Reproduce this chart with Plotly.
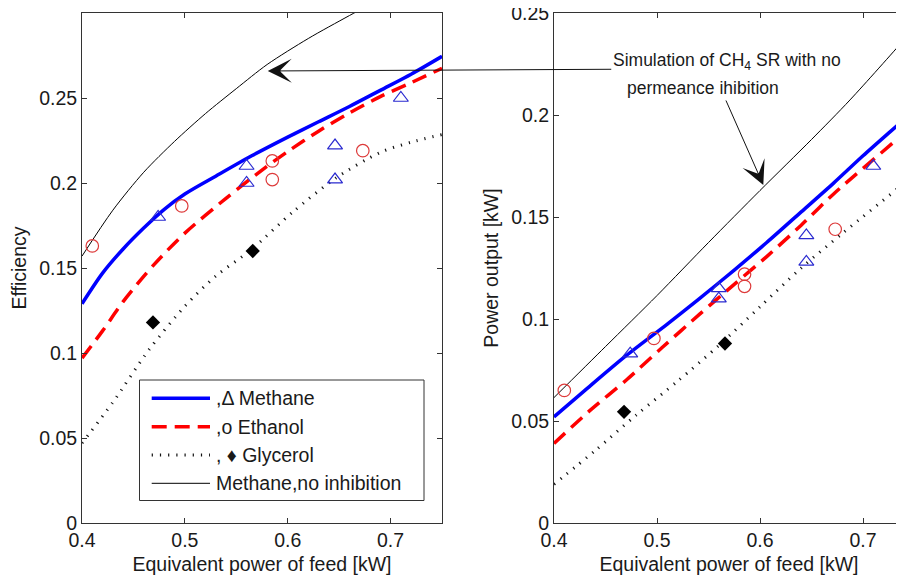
import plotly.graph_objects as go

# ---------------- Left panel: Efficiency ----------------
eff_methane_model_x = [0.40, 0.42, 0.44, 0.46, 0.48, 0.50, 0.53, 0.565, 0.60, 0.63, 0.66, 0.69, 0.72, 0.75]
eff_methane_model_y = [0.129, 0.147, 0.1612, 0.1735, 0.1845, 0.1935, 0.2040, 0.2160, 0.2270, 0.2360, 0.2450, 0.2545, 0.2640, 0.2745]
eff_ethanol_model_x = [0.40, 0.42, 0.44, 0.47, 0.50, 0.54, 0.575, 0.60, 0.63, 0.66, 0.69, 0.72, 0.75]
eff_ethanol_model_y = [0.097, 0.113, 0.1302, 0.152, 0.1705, 0.1910, 0.2076, 0.2185, 0.2305, 0.2412, 0.2508, 0.2590, 0.2675]
eff_glycerol_model_x = [0.40, 0.43, 0.465, 0.50, 0.53, 0.565, 0.605, 0.647, 0.69, 0.72, 0.75]
eff_glycerol_model_y = [0.047, 0.071, 0.1018, 0.1275, 0.1452, 0.161, 0.1830, 0.2030, 0.2180, 0.2240, 0.2285]
eff_noinhib_model_x = [0.40, 0.43, 0.46, 0.49, 0.52, 0.55, 0.58, 0.62, 0.66, 0.70, 0.75]
eff_noinhib_model_y = [0.157, 0.184, 0.2063, 0.2245, 0.2408, 0.2555, 0.2697, 0.2850, 0.2985, 0.3115, 0.328]

eff_methane_exp_x = [0.474, 0.56, 0.56, 0.646, 0.646, 0.71]
eff_methane_exp_y = [0.180, 0.210, 0.200, 0.222, 0.202, 0.250]
eff_ethanol_exp_x = [0.41, 0.497, 0.585, 0.585, 0.673]
eff_ethanol_exp_y = [0.163, 0.1865, 0.213, 0.202, 0.219]
eff_glycerol_exp_x = [0.469, 0.566]
eff_glycerol_exp_y = [0.118, 0.160]

# ---------------- Right panel: Power output ----------------
pow_methane_model_x = [0.40, 0.43, 0.47, 0.51, 0.54, 0.575, 0.6065, 0.64, 0.6712, 0.70, 0.7391, 0.75]
pow_methane_model_y = [0.052, 0.065, 0.082, 0.0975, 0.1095, 0.124, 0.1375, 0.1525, 0.1665, 0.180, 0.1975, 0.2025]
pow_ethanol_model_x = [0.40, 0.435, 0.47, 0.505, 0.5417, 0.575, 0.6065, 0.64, 0.6712, 0.7359, 0.75]
pow_ethanol_model_y = [0.039, 0.0552, 0.070, 0.086, 0.1025, 0.117, 0.1306, 0.146, 0.1612, 0.1894, 0.196]
pow_glycerol_model_x = [0.40, 0.44, 0.48, 0.52, 0.56, 0.60, 0.64, 0.68, 0.7398, 0.75]
pow_glycerol_model_y = [0.019, 0.0355, 0.053, 0.0695, 0.087, 0.106, 0.125, 0.142, 0.1665, 0.171]
pow_noinhib_model_x = [0.40, 0.45, 0.50, 0.55, 0.60, 0.65, 0.6874, 0.74, 0.75]
pow_noinhib_model_y = [0.0615, 0.0865, 0.1115, 0.1375, 0.163, 0.188, 0.2074, 0.237, 0.243]

pow_methane_exp_x = [0.474, 0.56, 0.56, 0.645, 0.645, 0.71]
pow_methane_exp_y = [0.083, 0.115, 0.110, 0.141, 0.128, 0.175]
pow_ethanol_exp_x = [0.41, 0.497, 0.585, 0.585, 0.673]
pow_ethanol_exp_y = [0.065, 0.0905, 0.122, 0.116, 0.144]
pow_glycerol_exp_x = [0.468, 0.566]
pow_glycerol_exp_y = [0.0545, 0.088]

x_tick_vals = [0.4, 0.5, 0.6, 0.7]
x_tick_text = ["0.4", "0.5", "0.6", "0.7"]
y_tick_vals = [0, 0.05, 0.1, 0.15, 0.2, 0.25]
y_tick_text = ["0", "0.05", "0.1", "0.15", "0.2", "0.25"]

legend_labels = [",Δ Methane", ",o Ethanol", ", ♦ Glycerol", "Methane,no inhibition"]

FONT = "Liberation Sans, Arial, Helvetica, sans-serif"
FS = 19.5
BLUE = "#0000ff"
RED = "#ff0000"
MK_BLUE = "#2a2ad0"
MK_RED = "#dd3a3a"
AX = "#333333"

# The page body adds an 8 px offset; target positions below are in window pixels.
OFF = 8
ML, MT, PW, PH = 82, 13, 822, 510          # plot block in window pixels
def pxx(px):
    return (px - ML) / PW
def pxy(py):
    return (MT + PH - py) / PH

fig = go.Figure()

line_styles = {
    "methane": dict(color=BLUE, width=3.5),
    "ethanol": dict(color=RED, width=3.5, dash="15px,8px"),
    "glycerol": dict(color="#111111", width=3, dash="1.2px,7px"),
    "noinhib": dict(color="#000000", width=1),
}

def add_panel(xa, ya, mx, my, ex, ey, gx, gy, nx, ny, emx, emy, eex, eey, egx, egy):
    for (x, y, key) in [(nx, ny, "noinhib"), (gx, gy, "glycerol"), (ex, ey, "ethanol"), (mx, my, "methane")]:
        fig.add_trace(go.Scatter(x=x, y=y, mode="lines", line=dict(shape="spline", smoothing=0.8, **line_styles[key]),
                                 xaxis=xa, yaxis=ya, showlegend=False, hoverinfo="skip"))
    fig.add_trace(go.Scatter(x=emx, y=emy, mode="markers", xaxis=xa, yaxis=ya, showlegend=False,
                             marker=dict(symbol="triangle-up-open", size=13, color=MK_BLUE, line=dict(width=1.2, color=MK_BLUE))))
    fig.add_trace(go.Scatter(x=eex, y=eey, mode="markers", xaxis=xa, yaxis=ya, showlegend=False,
                             marker=dict(symbol="circle-open", size=12.5, color=MK_RED, line=dict(width=1.2, color=MK_RED))))
    fig.add_trace(go.Scatter(x=egx, y=egy, mode="markers", xaxis=xa, yaxis=ya, showlegend=False,
                             marker=dict(symbol="diamond", size=11, color="#000000", line=dict(width=0))))

add_panel("x", "y", eff_methane_model_x, eff_methane_model_y, eff_ethanol_model_x, eff_ethanol_model_y,
          eff_glycerol_model_x, eff_glycerol_model_y, eff_noinhib_model_x, eff_noinhib_model_y,
          eff_methane_exp_x, eff_methane_exp_y, eff_ethanol_exp_x, eff_ethanol_exp_y,
          eff_glycerol_exp_x, eff_glycerol_exp_y)
add_panel("x2", "y2", pow_methane_model_x, pow_methane_model_y, pow_ethanol_model_x, pow_ethanol_model_y,
          pow_glycerol_model_x, pow_glycerol_model_y, pow_noinhib_model_x, pow_noinhib_model_y,
          pow_methane_exp_x, pow_methane_exp_y, pow_ethanol_exp_x, pow_ethanol_exp_y,
          pow_glycerol_exp_x, pow_glycerol_exp_y)

tickfont = dict(family=FONT, size=FS, color="#1a1a1a")
titlefont = dict(family=FONT, size=FS, color="#1a1a1a")
common = dict(showgrid=False, zeroline=False, showline=True, linecolor=AX, linewidth=1,
              ticks="inside", ticklen=5, tickwidth=1, tickcolor=AX, tickfont=tickfont,
              ticklabeloverflow="allow", automargin=False)

W, H = 904, 579
fig.update_layout(
    width=W, height=H,
    margin=dict(l=ML - OFF, r=W - (ML - OFF) - PW, t=MT - OFF, b=H - (MT - OFF) - PH),
    paper_bgcolor="white", plot_bgcolor="white",
    showlegend=False,
    xaxis=dict(domain=[0, pxx(442)], range=[0.4, 0.75], tickvals=x_tick_vals, ticktext=x_tick_text,
               mirror="ticks", anchor="y",
               title=dict(text="Equivalent power of feed [kW]", font=titlefont, standoff=6), **common),
    yaxis=dict(domain=[0, 1], range=[0, 0.3], tickvals=y_tick_vals, ticktext=y_tick_text,
               mirror="ticks", anchor="x",
               title=dict(text="Efficiency", font=titlefont, standoff=8), **common),
    xaxis2=dict(domain=[pxx(554), 1], range=[0.4, 0.4 + 350 / 1030], tickvals=x_tick_vals, ticktext=x_tick_text,
                mirror="ticks", anchor="y2",
                title=dict(text="Equivalent power of feed [kW]", font=titlefont, standoff=6), **common),
    yaxis2=dict(domain=[0, 1], range=[0, 0.25001], tickvals=y_tick_vals, ticktext=y_tick_text,
                mirror=False, anchor="x2",
                title=dict(text="Power output [kW]", font=titlefont, standoff=7), **common),
)

# ---- custom legend (MATLAB style box) ----
shapes = [dict(type="rect", xref="paper", yref="paper", x0=pxx(139.5), x1=pxx(424), y0=pxy(500.5), y1=pxy(380),
               line=dict(color=AX, width=1), fillcolor="white", layer="above")]
annos = []
leg_keys = ["methane", "ethanol", "glycerol", "noinhib"]
leg_y = [398.3, 426.7, 455, 483.3]
for key, lab, yy in zip(leg_keys, legend_labels, leg_y):
    shapes.append(dict(type="line", xref="paper", yref="paper", x0=pxx(151.7), x1=pxx(210), y0=pxy(yy), y1=pxy(yy),
                       line=line_styles[key], layer="above"))
    annos.append(dict(xref="paper", yref="paper", x=pxx(214), y=pxy(yy), text=lab, showarrow=False,
                      xanchor="left", yanchor="middle", font=dict(family=FONT, size=FS, color="#1a1a1a")))

# ---- callout annotation ----
annos.append(dict(xref="paper", yref="paper", x=pxx(611), y=pxy(61), text="Simulation of CH<sub>4</sub> SR with no",
                  showarrow=False, xanchor="left", yanchor="middle", font=dict(family=FONT, size=17.5, color="#1a1a1a")))
annos.append(dict(xref="paper", yref="paper", x=pxx(625), y=pxy(88), text="permeance ihibition",
                  showarrow=False, xanchor="left", yanchor="middle", font=dict(family=FONT, size=17.5, color="#1a1a1a")))
annos.append(dict(xref="x", yref="y", x=0.5806, y=0.2659, text="", showarrow=True, ax=345, ay=-1.7,
                  axref="pixel", ayref="pixel", arrowhead=3, arrowsize=4, arrowwidth=1, arrowcolor="#111111", standoff=0))
annos.append(dict(xref="x2", yref="y2", x=0.6032, y=0.1657, text="", showarrow=True, ax=-38, ay=-86,
                  axref="pixel", ayref="pixel", arrowhead=3, arrowsize=4, arrowwidth=1, arrowcolor="#111111", standoff=0))

fig.update_layout(shapes=shapes, annotations=annos)
fig.write_html("out.html")
